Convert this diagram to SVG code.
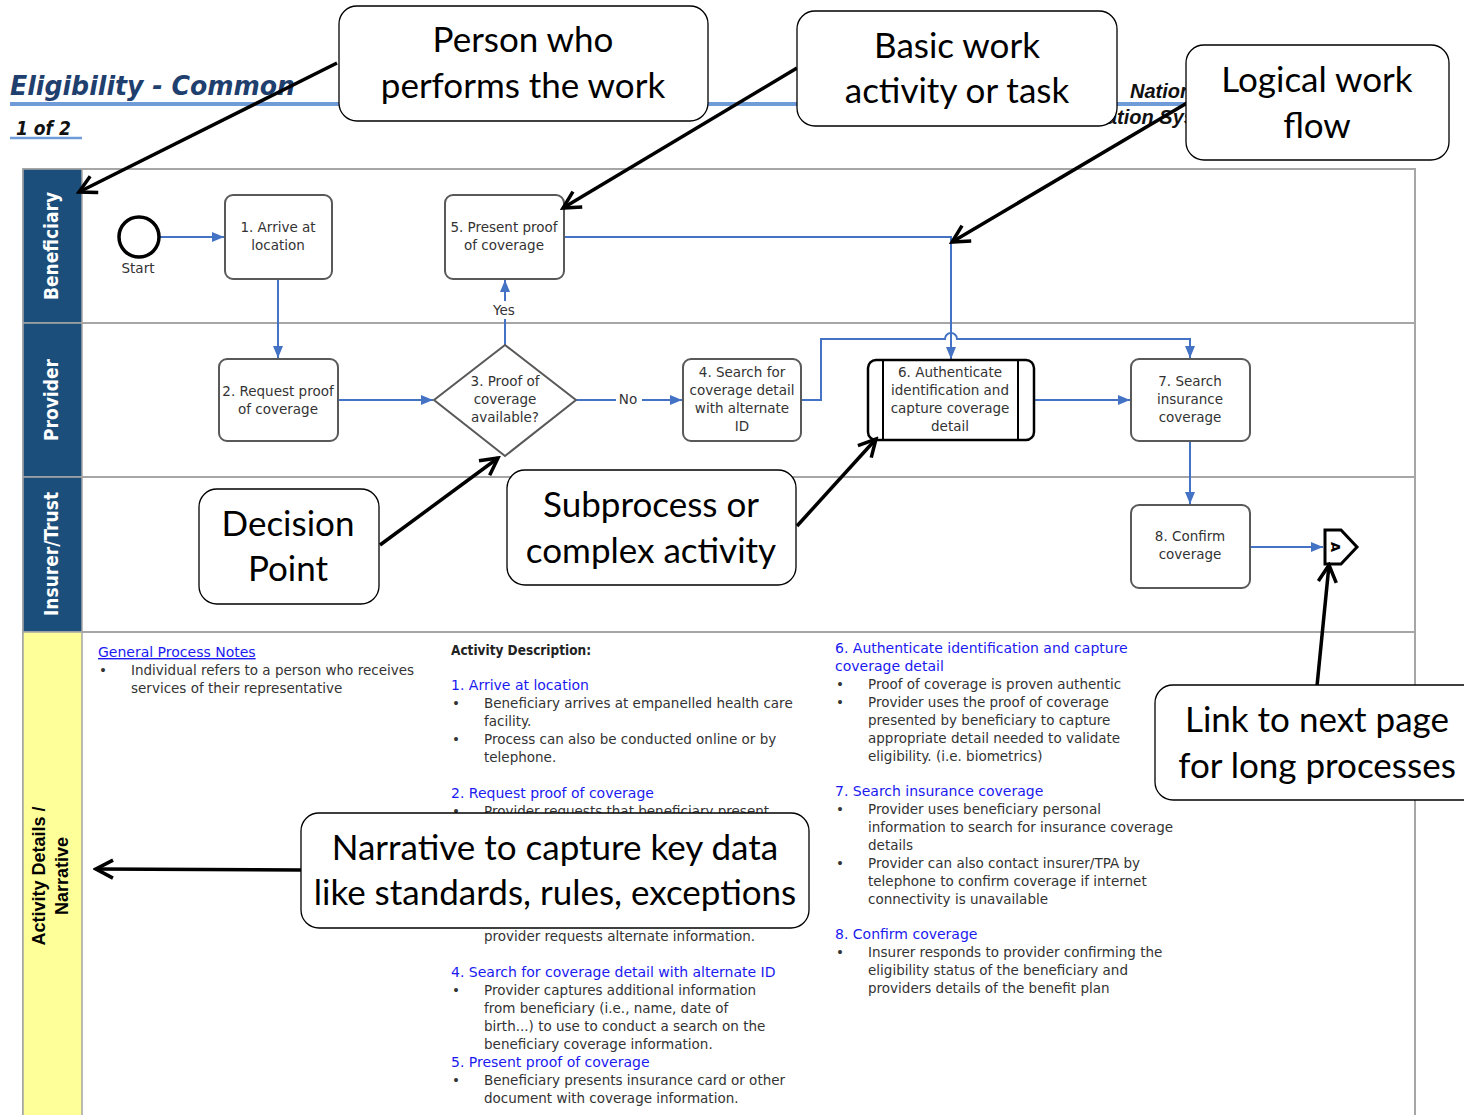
<svg xmlns="http://www.w3.org/2000/svg" width="1464" height="1115" viewBox="0 0 1464 1115">
<defs>
<marker id="ba" viewBox="0 0 12 10" refX="12" refY="5" markerWidth="12" markerHeight="10" markerUnits="userSpaceOnUse" orient="auto"><path d="M0,0 L12,5 L0,10 z" fill="#4472C4"/></marker>
<marker id="ka" viewBox="0 0 24 24" refX="21" refY="12" markerWidth="24" markerHeight="24" markerUnits="userSpaceOnUse" orient="auto"><path d="M4,3 L21,12 L4,21" fill="none" stroke="#000" stroke-width="3.5" stroke-linejoin="miter"/></marker>
<style>
.lane{fill:none;stroke:#A6A6A6;stroke-width:2}
.hdr{fill:#1C4E7C;stroke:#A6A6A6;stroke-width:1.5}
.hdry{fill:#FFFF99;stroke:#A6A6A6;stroke-width:1.5}
.ht{font-family:"DejaVu Sans Condensed","DejaVu Sans",sans-serif;font-weight:bold;font-size:19px;fill:#fff;text-anchor:middle}
.hty{font-family:"Liberation Sans",sans-serif;font-weight:bold;font-size:18px;fill:#000;text-anchor:middle}
.task{fill:#fff;stroke:#595959;stroke-width:2}
.nt{font-family:"DejaVu Sans",sans-serif;font-size:13.5px;fill:#333;text-anchor:middle}
.con{fill:none;stroke:#4472C4;stroke-width:2}
.call{fill:#fff;stroke:#000;stroke-width:1.3}
.ct{font-family:Lato,"Open Sans",sans-serif;font-size:35px;fill:#000;text-anchor:middle}
.karr{fill:none;stroke:#000;stroke-width:3.5}
.bt{font-family:"DejaVu Sans",sans-serif;font-size:13.5px;fill:#333}
.bh{font-family:"DejaVu Sans",sans-serif;font-size:14px;fill:#1A1AF0}
.blk{font-family:"DejaVu Sans Condensed","DejaVu Sans",sans-serif;font-size:13.5px;fill:#222;font-weight:bold}
</style>
</defs>
<rect width="1464" height="1115" fill="#fff"/>

<g id="header">
<text x="10" y="95" font-family="'DejaVu Sans Condensed','DejaVu Sans',sans-serif" font-weight="bold" font-style="italic" font-size="27" fill="#1F3F6E" textLength="285" lengthAdjust="spacingAndGlyphs">Eligibility - Common</text>
<line x1="10" y1="104" x2="1186" y2="104" stroke="#6F9BD9" stroke-width="4"/>
<text x="16" y="135" font-family="'DejaVu Sans Condensed','DejaVu Sans',sans-serif" font-weight="bold" font-style="italic" font-size="19" fill="#111">1 of 2</text>
<line x1="10" y1="138" x2="82" y2="138" stroke="#6F9BD9" stroke-width="2.5"/>
<text x="1130" y="98" font-family="'Liberation Sans',sans-serif" font-weight="bold" font-style="italic" font-size="20" fill="#111">National</text>
<text x="1106" y="124" font-family="'Liberation Sans',sans-serif" font-weight="bold" font-style="italic" font-size="20" fill="#111">ation Sys</text>
</g>

<g id="lanes">
<rect class="lane" x="23" y="169" width="1392" height="960"/>
<line class="lane" x1="23" y1="323" x2="1415" y2="323"/>
<line class="lane" x1="23" y1="477" x2="1415" y2="477"/>
<line class="lane" x1="23" y1="632" x2="1415" y2="632"/>
<rect class="hdr" x="23" y="169" width="59" height="154"/>
<rect class="hdr" x="23" y="323" width="59" height="154"/>
<rect class="hdr" x="23" y="477" width="59" height="155"/>
<rect class="hdry" x="23" y="632" width="59" height="490"/>
<text class="ht" transform="translate(58,246) rotate(-90)">Beneficiary</text>
<text class="ht" transform="translate(58,400) rotate(-90)">Provider</text>
<text class="ht" transform="translate(58,554) rotate(-90)">Insurer/Trust</text>
<text class="hty" transform="translate(45,876) rotate(-90)">Activity Details /</text>
<text class="hty" transform="translate(68,876) rotate(-90)">Narrative</text>
</g>

<g id="connectors">
<line class="con" x1="160" y1="237" x2="224" y2="237" marker-end="url(#ba)"/>
<line class="con" x1="278" y1="279" x2="278" y2="358" marker-end="url(#ba)"/>
<line class="con" x1="338" y1="400" x2="433" y2="400" marker-end="url(#ba)"/>
<line class="con" x1="505" y1="345" x2="505" y2="280" marker-end="url(#ba)"/>
<rect x="488" y="301" width="34" height="18" fill="#fff"/>
<text class="nt" x="504" y="315">Yes</text>
<line class="con" x1="576" y1="400" x2="682" y2="400" marker-end="url(#ba)"/>
<rect x="616" y="391" width="26" height="16" fill="#fff"/>
<text class="nt" x="628" y="404">No</text>
<path class="con" d="M564,237 L951,237 L951,359" marker-end="url(#ba)"/>
<path class="con" d="M801,400 L821,400 L821,339 L945,339 A6,6 0 0 1 957,339 L1190,339 L1190,358" marker-end="url(#ba)"/>
<line class="con" x1="1034" y1="400" x2="1130" y2="400" marker-end="url(#ba)"/>
<line class="con" x1="1190" y1="441" x2="1190" y2="504" marker-end="url(#ba)"/>
<line class="con" x1="1250" y1="547" x2="1323" y2="547" marker-end="url(#ba)"/>
</g>

<g id="start">
<circle cx="139" cy="237" r="20" fill="#fff" stroke="#000" stroke-width="3.5"/>
<text class="nt" x="138" y="273">Start</text>
</g>
<g id="n1">
<rect class="task" x="225" y="195" width="107" height="84" rx="8"/>
<text class="nt" x="278" y="232">1. Arrive at</text>
<text class="nt" x="278" y="250">location</text>
</g>
<g id="n5">
<rect class="task" x="445" y="195" width="119" height="84" rx="8"/>
<text class="nt" x="504" y="232">5. Present proof</text>
<text class="nt" x="504" y="250">of coverage</text>
</g>
<g id="n2">
<rect class="task" x="219" y="359" width="119" height="82" rx="8"/>
<text class="nt" x="278" y="396">2. Request proof</text>
<text class="nt" x="278" y="414">of coverage</text>
</g>
<g id="n3">
<polygon points="505,345 576,400 505,456 434,400" fill="#fff" stroke="#595959" stroke-width="2"/>
<text class="nt" x="505" y="386">3. Proof of</text>
<text class="nt" x="505" y="404">coverage</text>
<text class="nt" x="505" y="422">available?</text>
</g>
<g id="n4">
<rect class="task" x="683" y="359" width="118" height="82" rx="8"/>
<text class="nt" x="742" y="377">4. Search for</text>
<text class="nt" x="742" y="395">coverage detail</text>
<text class="nt" x="742" y="413">with alternate</text>
<text class="nt" x="742" y="431">ID</text>
</g>
<g id="n6">
<rect x="868" y="360" width="166" height="80" rx="8" fill="#fff" stroke="#000" stroke-width="2.5"/>
<line x1="883" y1="360" x2="883" y2="440" stroke="#000" stroke-width="2"/>
<line x1="1018" y1="360" x2="1018" y2="440" stroke="#000" stroke-width="2"/>
<text class="nt" x="950" y="377">6. Authenticate</text>
<text class="nt" x="950" y="395">identification and</text>
<text class="nt" x="950" y="413">capture coverage</text>
<text class="nt" x="950" y="431">detail</text>
</g>
<g id="n7">
<rect class="task" x="1131" y="359" width="119" height="82" rx="8"/>
<text class="nt" x="1190" y="386">7. Search</text>
<text class="nt" x="1190" y="404">insurance</text>
<text class="nt" x="1190" y="422">coverage</text>
</g>
<g id="n8">
<rect class="task" x="1131" y="505" width="119" height="83" rx="8"/>
<text class="nt" x="1190" y="541">8. Confirm</text>
<text class="nt" x="1190" y="559">coverage</text>
</g>
<g id="offpage">
<polygon points="1325,530 1341,530 1357,547 1341,564 1325,564" fill="#fff" stroke="#000" stroke-width="3"/>
<text transform="translate(1331,547) rotate(90)" font-family="'DejaVu Sans',sans-serif" font-weight="bold" font-size="13" text-anchor="middle" fill="#000">A</text>
</g>

<g id="narrative">
<text x="98" y="657" class="bh" text-decoration="underline">General Process Notes</text>
<text x="99" y="675" class="bt">•</text>
<text x="131" y="675" class="bt">Individual refers to a person who receives</text>
<text x="131" y="693" class="bt">services of their representative</text>

<text x="451" y="655" class="blk">Activity Description:</text>
<text x="451" y="690" class="bh">1. Arrive at location</text>
<text x="452" y="708" class="bt">•</text>
<text x="484" y="708" class="bt">Beneficiary arrives at empanelled health care</text>
<text x="484" y="726" class="bt">facility.</text>
<text x="452" y="744" class="bt">•</text>
<text x="484" y="744" class="bt">Process can also be conducted online or by</text>
<text x="484" y="762" class="bt">telephone.</text>
<text x="451" y="798" class="bh">2. Request proof of coverage</text>
<text x="452" y="816" class="bt">•</text>
<text x="484" y="816" class="bt">Provider requests that beneficiary present</text>
<text x="484" y="941" class="bt">provider requests alternate information.</text>
<text x="451" y="977" class="bh">4. Search for coverage detail with alternate ID</text>
<text x="452" y="995" class="bt">•</text>
<text x="484" y="995" class="bt">Provider captures additional information</text>
<text x="484" y="1013" class="bt">from beneficiary (i.e., name, date of</text>
<text x="484" y="1031" class="bt">birth...) to use to conduct a search on the</text>
<text x="484" y="1049" class="bt">beneficiary coverage information.</text>
<text x="451" y="1067" class="bh">5. Present proof of coverage</text>
<text x="452" y="1085" class="bt">•</text>
<text x="484" y="1085" class="bt">Beneficiary presents insurance card or other</text>
<text x="484" y="1103" class="bt">document with coverage information.</text>

<text x="835" y="653" class="bh">6. Authenticate identification and capture</text>
<text x="835" y="671" class="bh">coverage detail</text>
<text x="836" y="689" class="bt">•</text>
<text x="868" y="689" class="bt">Proof of coverage is proven authentic</text>
<text x="836" y="707" class="bt">•</text>
<text x="868" y="707" class="bt">Provider uses the proof of coverage</text>
<text x="868" y="725" class="bt">presented by beneficiary to capture</text>
<text x="868" y="743" class="bt">appropriate detail needed to validate</text>
<text x="868" y="761" class="bt">eligibility. (i.e. biometrics)</text>
<text x="835" y="796" class="bh">7. Search insurance coverage</text>
<text x="836" y="814" class="bt">•</text>
<text x="868" y="814" class="bt">Provider uses beneficiary personal</text>
<text x="868" y="832" class="bt">information to search for insurance coverage</text>
<text x="868" y="850" class="bt">details</text>
<text x="836" y="868" class="bt">•</text>
<text x="868" y="868" class="bt">Provider can also contact insurer/TPA by</text>
<text x="868" y="886" class="bt">telephone to confirm coverage if internet</text>
<text x="868" y="904" class="bt">connectivity is unavailable</text>
<text x="835" y="939" class="bh">8. Confirm coverage</text>
<text x="836" y="957" class="bt">•</text>
<text x="868" y="957" class="bt">Insurer responds to provider confirming the</text>
<text x="868" y="975" class="bt">eligibility status of the beneficiary and</text>
<text x="868" y="993" class="bt">providers details of the benefit plan</text>
</g>

<g id="callout-arrows">
<line class="karr" x1="337" y1="63" x2="79" y2="192" marker-end="url(#ka)"/>
<line class="karr" x1="797" y1="68" x2="563" y2="208" marker-end="url(#ka)"/>
<line class="karr" x1="1187" y1="103" x2="952" y2="242" marker-end="url(#ka)"/>
<line class="karr" x1="380" y1="545" x2="498" y2="458" marker-end="url(#ka)"/>
<line class="karr" x1="797" y1="526" x2="876" y2="439" marker-end="url(#ka)"/>
<line class="karr" x1="1317" y1="686" x2="1329" y2="565" marker-end="url(#ka)"/>
<line class="karr" x1="301" y1="870" x2="96" y2="869" marker-end="url(#ka)"/>
</g>

<g id="c-person">
<rect class="call" x="339" y="6" width="369" height="115" rx="18"/>
<text class="ct" x="523" y="52">Person who</text>
<text class="ct" x="523" y="98">performs the work</text>
</g>
<g id="c-task">
<rect class="call" x="797" y="11" width="320" height="115" rx="18"/>
<text class="ct" x="957" y="58">Basic work</text>
<text class="ct" x="957" y="103">activity or task</text>
</g>
<g id="c-flow">
<rect class="call" x="1186" y="45" width="263" height="115" rx="18"/>
<text class="ct" x="1317" y="92">Logical work</text>
<text class="ct" x="1317" y="138">flow</text>
</g>
<g id="c-decision">
<rect class="call" x="199" y="489" width="180" height="115" rx="18"/>
<text class="ct" x="288" y="536">Decision</text>
<text class="ct" x="288" y="581">Point</text>
</g>
<g id="c-sub">
<rect class="call" x="507" y="470" width="289" height="115" rx="18"/>
<text class="ct" x="651" y="517">Subprocess or</text>
<text class="ct" x="651" y="563">complex activity</text>
</g>
<g id="c-link">
<rect class="call" x="1155" y="685" width="330" height="115" rx="18"/>
<text class="ct" x="1317" y="732">Link to next page</text>
<text class="ct" x="1317" y="778">for long processes</text>
</g>
<g id="c-narr">
<rect class="call" x="301" y="813" width="508" height="115" rx="18"/>
<text class="ct" x="555" y="860">Narrative to capture key data</text>
<text class="ct" x="555" y="905">like standards, rules, exceptions</text>
</g>
</svg>
